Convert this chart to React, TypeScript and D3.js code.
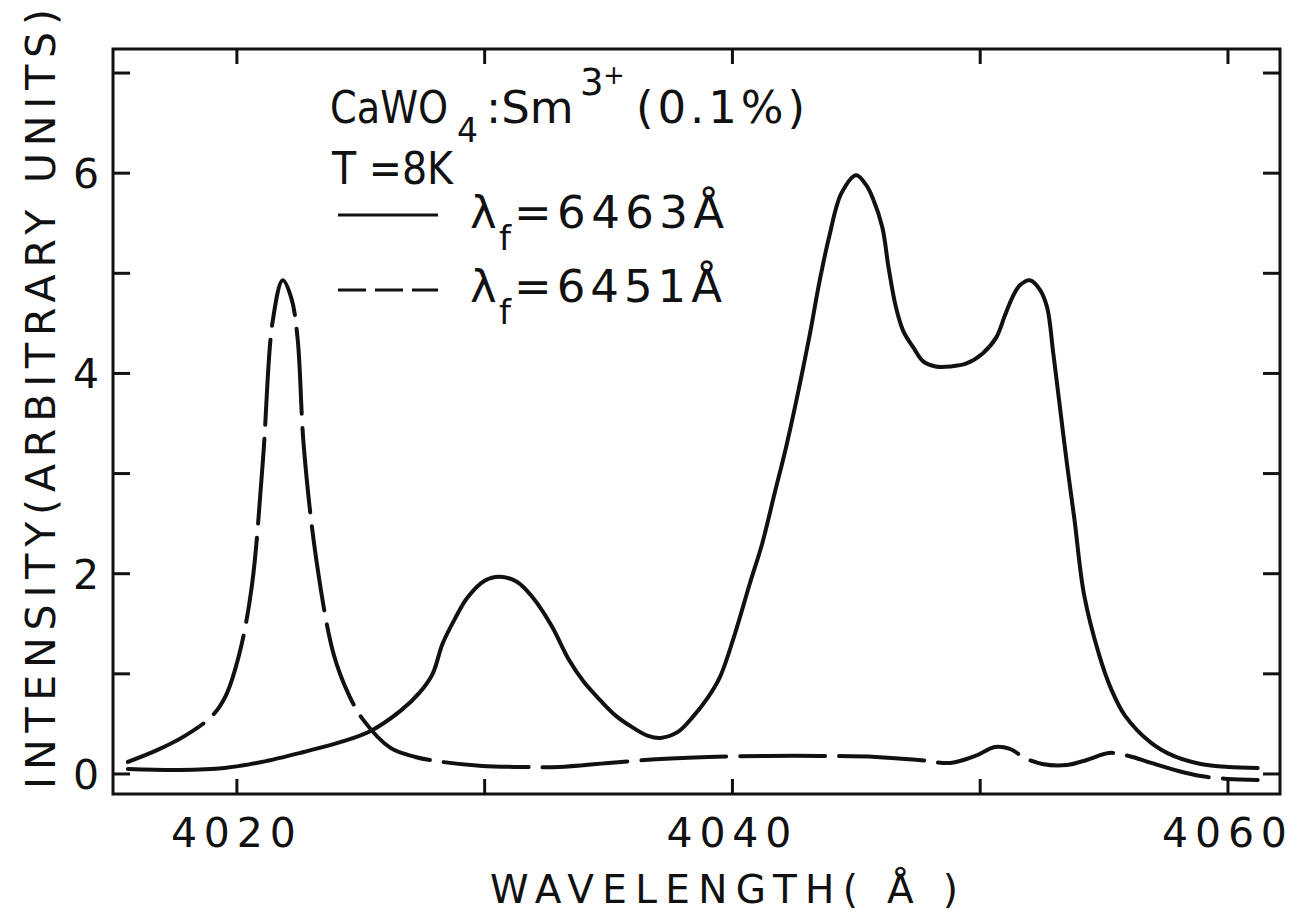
import React from "react";
import * as d3 from "d3";

// ---- data ----
const solidWavelength = [
  4015.6, 4017.7, 4019.5, 4021.0, 4022.7, 4024.2, 4025.4, 4026.6, 4027.4, 4027.9,
  4028.3, 4028.8, 4029.3, 4030.0, 4030.6, 4031.3, 4031.95, 4032.7, 4033.4, 4034.0,
  4034.65, 4035.3, 4036.0, 4036.6, 4037.1, 4037.8, 4038.4, 4039.0, 4039.5, 4040.1,
  4040.7, 4041.2, 4041.7, 4042.2, 4043.1, 4043.5, 4043.9, 4044.4, 4045.0, 4045.4,
  4045.65, 4046.05, 4046.3, 4046.6, 4046.9, 4047.3, 4047.7, 4048.2, 4048.8, 4049.45,
  4050.1, 4050.65, 4051.0, 4051.3, 4051.6, 4052.0, 4052.4, 4052.7, 4052.95, 4053.2,
  4053.5, 4053.8, 4054.2, 4054.8, 4055.3, 4055.85, 4056.9, 4057.8, 4058.9, 4060.0, 4061.2,
];
const solidIntensity = [
  0.05, 0.04, 0.06, 0.12, 0.22, 0.32, 0.43, 0.63, 0.82, 1.0,
  1.3, 1.55, 1.76, 1.93, 1.97, 1.92, 1.76, 1.48, 1.14, 0.92,
  0.74, 0.58, 0.46, 0.38, 0.36, 0.42, 0.57, 0.76, 0.97, 1.4,
  1.9, 2.3, 2.8, 3.3, 4.36, 4.9, 5.36, 5.8, 5.98, 5.88,
  5.76, 5.46, 5.06, 4.66, 4.42, 4.26, 4.12, 4.07, 4.07, 4.1,
  4.2, 4.36, 4.58, 4.76, 4.88, 4.93, 4.84, 4.66, 4.2, 3.7,
  3.1, 2.55, 1.78, 1.19, 0.84, 0.58, 0.31, 0.18, 0.1, 0.07, 0.06,
];

const dashedWavelength = [
  4015.6, 4016.8, 4017.9, 4019.0, 4019.55, 4020.1, 4020.6, 4021.05, 4021.45, 4021.85,
  4022.2, 4022.45, 4022.7, 4023.2, 4023.9, 4024.5, 4025.1, 4026.2, 4027.2, 4028.3,
  4029.9, 4031.5, 4033.0, 4035.0, 4037.1, 4039.0, 4041.4, 4043.5, 4045.8, 4047.5,
  4048.8, 4049.8, 4050.6, 4051.2, 4051.8, 4052.5, 4053.5, 4054.3, 4055.2, 4056.0,
  4056.9, 4058.0, 4058.9, 4060.0, 4061.2,
];
const dashedIntensity = [
  0.12, 0.24, 0.38, 0.58, 0.78, 1.2, 1.87, 3.13, 4.53, 4.93,
  4.75, 4.35, 3.27, 2.15, 1.2, 0.8, 0.54, 0.26, 0.17, 0.12,
  0.08, 0.07, 0.07, 0.11, 0.15, 0.17, 0.18, 0.18, 0.17, 0.14,
  0.11, 0.18, 0.27, 0.25, 0.16, 0.1, 0.09, 0.14, 0.21, 0.18,
  0.11, 0.03, -0.02, -0.05, -0.06,
];

const xTicks = [4020, 4030, 4040, 4050, 4060];
const xTickLabels = ["4020", "4040", "4060"];
const yTicks = [0, 1, 2, 3, 4, 5, 6, 7];
const yTickLabels = ["0", "2", "4", "6"];

const FONT = "'DejaVu Sans', 'Liberation Sans', Arial, sans-serif";
const INK = "#111";

export default function App() {
  const x = d3.scaleLinear().domain([4015, 4062.1]).range([113, 1280]);
  const y = d3.scaleLinear().domain([-0.2, 7.24]).range([794, 49]);

  const line = d3
    .line<[number, number]>()
    .x((d) => x(d[0]))
    .y((d) => y(d[1]))
    .curve(d3.curveCatmullRom.alpha(0.5));

  const solid = line(solidWavelength.map((w, i) => [w, solidIntensity[i]]) as [number, number][]) || "";
  const dashed = line(dashedWavelength.map((w, i) => [w, dashedIntensity[i]]) as [number, number][]) || "";

  const [x0, x1] = x.range();
  const [yb, yt] = y.range();

  return (
    <svg
      width={1302}
      height={913}
      style={{ position: "absolute", left: 0, top: 0, background: "#fff" }}
      fontFamily={FONT}
    >
      <rect x={0} y={0} width={1302} height={913} fill="#fff" />
      {/* frame */}
      <rect x={x0} y={yt} width={x1 - x0} height={yb - yt} fill="none" stroke={INK} strokeWidth={3} />
      {/* x ticks top & bottom */}
      {xTicks.map((t) => (
        <g key={"xt" + t}>
          <line x1={x(t)} x2={x(t)} y1={yb} y2={yb - 15} stroke={INK} strokeWidth={3} />
          <line x1={x(t)} x2={x(t)} y1={yt} y2={yt + 15} stroke={INK} strokeWidth={3} />
        </g>
      ))}
      {/* y ticks left & right */}
      {yTicks.map((t) => (
        <g key={"yt" + t}>
          <line x1={x0} x2={x0 + 17} y1={y(t)} y2={y(t)} stroke={INK} strokeWidth={3} />
          <line x1={x1} x2={x1 - 17} y1={y(t)} y2={y(t)} stroke={INK} strokeWidth={3} />
        </g>
      ))}
      {/* x tick labels */}
      {xTickLabels.map((s) => (
        <text
          key={"xl" + s}
          x={x(+s) - 66}
          y={847}
          fontSize={41}
          textLength={125}
          lengthAdjust="spacing"
          fill={INK}
        >
          {s}
        </text>
      ))}
      {/* y tick labels */}
      {yTickLabels.map((s) => (
        <text key={"yl" + s} x={86} y={y(+s) + 15} fontSize={41} textAnchor="middle" fill={INK}>
          {s}
        </text>
      ))}
      {/* axis titles */}
      <text x={490} y={903} fontSize={39} textLength={468} lengthAdjust="spacing" fill={INK}>
        WAVELENGTH( Å )
      </text>
      <text
        transform="translate(55,399) rotate(-90)"
        fontSize={41}
        textAnchor="middle"
        textLength={780}
        lengthAdjust="spacing"
        fill={INK}
      >
        INTENSITY(ARBITRARY UNITS)
      </text>

      {/* curves */}
      <path d={solid} fill="none" stroke={INK} strokeWidth={4} strokeLinejoin="round" strokeLinecap="round" />
      <path
        d={dashed}
        fill="none"
        stroke={INK}
        strokeWidth={4}
        strokeDasharray="85 14"
        strokeLinejoin="round"
        strokeLinecap="round"
      />

      {/* annotation / legend */}
      <g fill={INK}>
        <text transform="translate(330,123) scale(0.85,1)" fontSize={45}>CaWO</text>
        <text x={457} y={142} fontSize={33}>4</text>
        <text x={486} y={123} fontSize={45}>:Sm</text>
        <text x={580} y={95} fontSize={37}>3</text>
        <text x={603} y={84} fontSize={26}>+</text>
        <text x={636} y={123} fontSize={45} textLength={169} lengthAdjust="spacing">(0.1%)</text>
        <text transform="translate(332,184) scale(0.9,1)" fontSize={44}>T =8K</text>

        <line x1={338} x2={438} y1={215} y2={215} stroke={INK} strokeWidth={3} />
        <text x={470} y={228} fontSize={45}>λ</text>
        <text x={499} y={250} fontSize={34}>f</text>
        <text x={514} y={228} fontSize={45} textLength={210} lengthAdjust="spacing">=6463Å</text>

        <line x1={338} x2={438} y1={290} y2={290} stroke={INK} strokeWidth={3} strokeDasharray="28 9" />
        <text x={470} y={302} fontSize={45}>λ</text>
        <text x={499} y={324} fontSize={34}>f</text>
        <text x={514} y={302} fontSize={45} textLength={208} lengthAdjust="spacing">=6451Å</text>
      </g>
    </svg>
  );
}
